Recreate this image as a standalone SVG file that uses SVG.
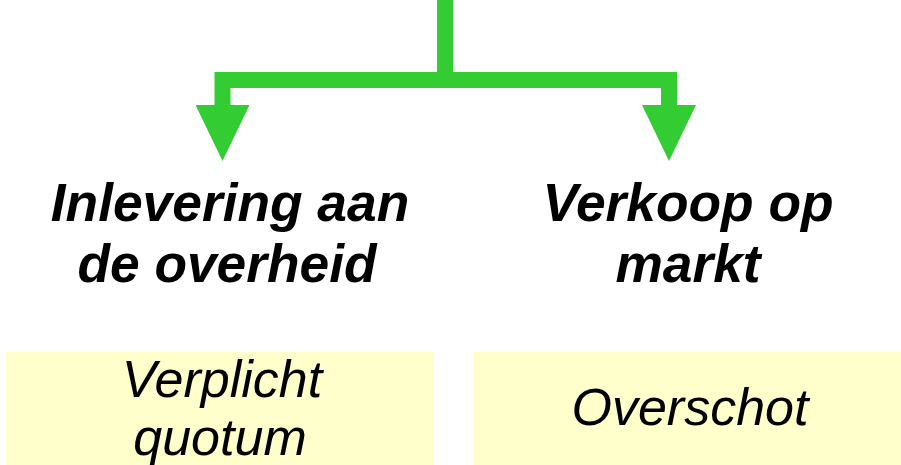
<svg xmlns="http://www.w3.org/2000/svg" width="901" height="465" viewBox="0 0 901 465">
<style>
.conn{fill:none;stroke:#33CC33;stroke-width:16;stroke-linejoin:miter;}
.head{font-family:"Liberation Sans",Arial,sans-serif;font-size:53.3px;font-weight:bold;font-style:italic;fill:#000;text-anchor:middle;}
.box{fill:#FFFFCC;}
.btxt{font-family:"Liberation Sans",Arial,sans-serif;font-size:52px;font-style:italic;fill:#000;text-anchor:middle;}
</style>
<defs>
<marker id="arrow" markerUnits="userSpaceOnUse" viewBox="0 0 56 54" refX="1" refY="27" markerWidth="56" markerHeight="54" orient="auto">
<path d="M0,0 L56,27 L0,54 z" fill="#33CC33"/>
</marker>
</defs>
<rect width="901" height="465" fill="#FFFFFF"/>
<g id="connectors">
<path class="conn" d="M445,0 V88"/>
<path class="conn" d="M445,80 H222.5 V106" marker-end="url(#arrow)"/>
<path class="conn" d="M445,80 H669 V106" marker-end="url(#arrow)"/>
</g>
<g id="inlevering">
<text class="head" x="230" y="221">Inlevering aan</text>
<text class="head" x="227" y="282">de overheid</text>
</g>
<g id="verkoop">
<text class="head" x="688" y="221">Verkoop op</text>
<text class="head" x="688" y="282">markt</text>
</g>
<g id="verplicht">
<rect class="box" x="6" y="352" width="428" height="113"/>
<text class="btxt" x="222" y="397">Verplicht</text>
<text class="btxt" x="220" y="455">quotum</text>
</g>
<g id="overschot">
<rect class="box" x="474" y="352" width="427" height="113"/>
<text class="btxt" x="690" y="425">Overschot</text>
</g>
</svg>
